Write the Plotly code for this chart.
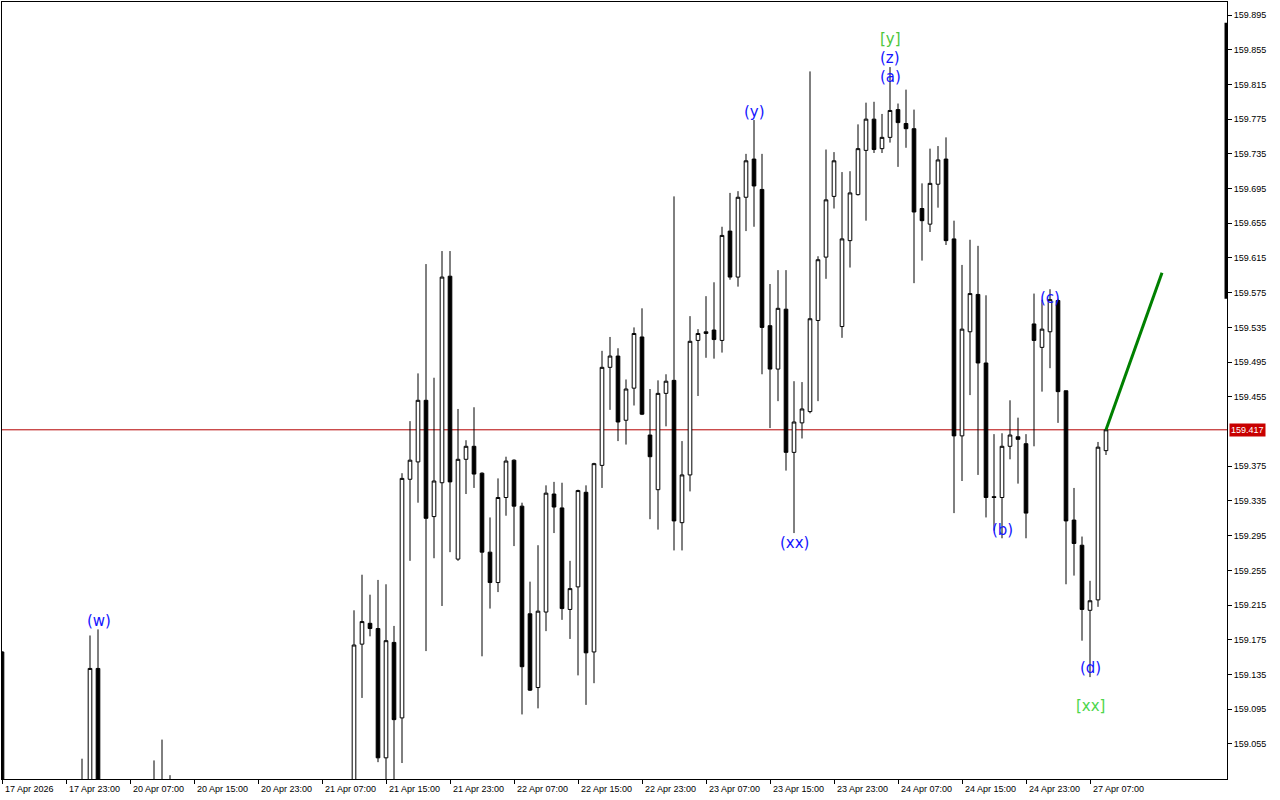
import plotly.graph_objects as go

# ---- data (USDJPY-like H1 candles) ----
bars = list(range(139))

opens = [159.161, 158.950, 158.930, 158.960, 158.945, 158.970, 158.980, 158.965, 158.975, 158.985,
         158.990, 159.000, 159.142, 158.970, 158.950, 158.960, 158.975, 158.985, 158.995, 158.990,
         159.000, 158.995, 158.985, 158.960, 158.945, 158.955, 158.970, 158.960, 158.950, 158.940,
         158.955, 158.965, 158.950, 158.960, 158.975, 158.965, 158.980, 158.970, 158.985, 158.975,
         158.990, 158.980, 158.995, 158.985, 158.990, 159.170, 159.194, 159.188, 159.039, 159.172,
         159.085, 159.360, 159.380, 159.451, 159.317, 159.356, 159.594, 159.268, 159.383, 159.398,
         159.367, 159.276, 159.241, 159.339, 159.382, 159.329, 159.205, 159.120, 159.207, 159.343,
         159.327, 159.210, 159.236, 159.345, 159.161, 159.376, 159.489, 159.502, 159.428, 159.465,
         159.524, 159.411, 159.348, 159.459, 159.474, 159.310, 159.365, 159.520, 159.528, 159.532,
         159.520, 159.646, 159.593, 159.685, 159.729, 159.694, 159.537, 159.487, 159.556, 159.391,
         159.425, 159.438, 159.543, 159.616, 159.686, 159.536, 159.635, 159.688, 159.739, 159.775,
         159.741, 159.754, 159.786, 159.770, 159.764, 159.672, 159.654, 159.700, 159.729, 159.637,
         159.410, 159.530, 159.573, 159.494, 159.340, 159.339, 159.398, 159.409, 159.401, 159.539,
         159.512, 159.530, 159.566, 159.462, 159.313, 159.284, 159.209, 159.221, 159.393]

highs = [159.162, 158.990, 158.975, 158.995, 158.985, 159.000, 159.005, 158.995, 159.005, 159.008,
         159.038, 159.180, 159.187, 159.000, 158.990, 159.000, 159.005, 159.008, 159.010, 159.036,
         159.060, 159.019, 159.005, 158.990, 158.980, 158.985, 158.995, 158.985, 158.975, 158.970,
         158.985, 158.990, 158.980, 158.990, 159.000, 158.995, 159.005, 159.000, 159.008, 159.003,
         159.010, 159.005, 159.010, 159.008, 159.209, 159.250, 159.227, 159.244, 159.239, 159.191,
         159.367, 159.427, 159.482, 159.608, 159.477, 159.623, 159.623, 159.441, 159.405, 159.443,
         159.368, 159.316, 159.361, 159.386, 159.383, 159.333, 159.242, 159.284, 159.353, 159.357,
         159.356, 159.266, 159.348, 159.353, 159.379, 159.508, 159.524, 159.511, 159.475, 159.535,
         159.557, 159.464, 159.474, 159.481, 159.686, 159.404, 159.548, 159.533, 159.571, 159.587,
         159.651, 159.690, 159.692, 159.735, 159.774, 159.735, 159.585, 159.601, 159.601, 159.473,
         159.472, 159.830, 159.617, 159.740, 159.737, 159.714, 159.715, 159.769, 159.794, 159.795,
         159.781, 159.835, 159.793, 159.809, 159.786, 159.701, 159.741, 159.744, 159.754, 159.658,
         159.607, 159.636, 159.629, 159.572, 159.412, 159.413, 159.451, 159.431, 159.412, 159.574,
         159.567, 159.579, 159.568, 159.462, 159.350, 159.294, 159.243, 159.403, 159.418]

lows = [158.930, 158.900, 158.905, 158.935, 158.920, 158.950, 158.955, 158.940, 158.950, 158.960,
        158.975, 158.990, 158.950, 158.930, 158.920, 158.940, 158.950, 158.960, 158.970, 158.975,
        158.980, 158.970, 158.950, 158.930, 158.920, 158.935, 158.945, 158.930, 158.925, 158.915,
        158.935, 158.940, 158.930, 158.940, 158.950, 158.945, 158.955, 158.950, 158.960, 158.955,
        158.965, 158.960, 158.970, 158.965, 158.975, 159.108, 159.179, 159.034, 159.000, 159.005,
        159.033, 159.266, 159.333, 159.162, 159.269, 159.214, 159.276, 159.266, 159.343, 159.350,
        159.156, 159.211, 159.230, 159.318, 159.283, 159.089, 159.116, 159.096, 159.185, 159.298,
        159.198, 159.176, 159.134, 159.100, 159.125, 159.350, 159.440, 159.404, 159.400, 159.445,
        159.434, 159.314, 159.302, 159.421, 159.278, 159.278, 159.346, 159.456, 159.500, 159.499,
        159.506, 159.590, 159.582, 159.646, 159.651, 159.481, 159.419, 159.450, 159.370, 159.298,
        159.407, 159.436, 159.450, 159.591, 159.672, 159.523, 159.604, 159.687, 159.658, 159.736,
        159.736, 159.748, 159.720, 159.742, 159.586, 159.612, 159.645, 159.673, 159.630, 159.321,
        159.358, 159.457, 159.365, 159.316, 159.301, 159.292, 159.383, 159.355, 159.292, 159.398,
        159.461, 159.488, 159.425, 159.239, 159.249, 159.174, 159.132, 159.213, 159.388]

closes = [158.950, 158.930, 158.960, 158.945, 158.970, 158.980, 158.965, 158.975, 158.985, 158.990,
          159.000, 159.142, 158.970, 158.950, 158.960, 158.975, 158.985, 158.995, 158.990, 159.000,
          158.995, 158.985, 158.960, 158.945, 158.955, 158.970, 158.960, 158.950, 158.940, 158.955,
          158.965, 158.950, 158.960, 158.975, 158.965, 158.980, 158.970, 158.985, 158.975, 158.990,
          158.980, 158.995, 158.985, 158.990, 159.169, 159.196, 159.188, 159.039, 159.174, 159.083,
          159.361, 159.382, 159.451, 159.315, 159.358, 159.593, 159.357, 159.383, 159.398, 159.366,
          159.276, 159.241, 159.339, 159.381, 159.329, 159.144, 159.117, 159.208, 159.344, 159.328,
          159.211, 159.234, 159.347, 159.160, 159.378, 159.489, 159.502, 159.426, 159.464, 159.528,
          159.435, 159.386, 159.459, 159.473, 159.312, 159.365, 159.519, 159.528, 159.530, 159.521,
          159.641, 159.593, 159.685, 159.727, 159.698, 159.535, 159.487, 159.557, 159.391, 159.426,
          159.441, 159.545, 159.613, 159.682, 159.727, 159.637, 159.690, 159.741, 159.775, 159.740,
          159.754, 159.785, 159.771, 159.764, 159.668, 159.658, 159.701, 159.728, 159.635, 159.410,
          159.533, 159.574, 159.494, 159.339, 159.339, 159.398, 159.411, 159.406, 159.321, 159.520,
          159.533, 159.567, 159.461, 159.312, 159.286, 159.210, 159.220, 159.397, 159.417]

last_price = 159.417

# projection line
target_x = [138, 145]
target_y = [159.417, 159.598]

# x-axis time labels (one every 8 bars)
tick_bars = [0, 8, 16, 24, 32, 40, 48, 56, 64, 72, 80, 88, 96, 104, 112, 120, 128, 136]
tick_labels = ["17 Apr 2026", "17 Apr 23:00", "20 Apr 07:00", "20 Apr 15:00", "20 Apr 23:00",
               "21 Apr 07:00", "21 Apr 15:00", "21 Apr 23:00", "22 Apr 07:00", "22 Apr 15:00",
               "22 Apr 23:00", "23 Apr 07:00", "23 Apr 15:00", "23 Apr 23:00", "24 Apr 07:00",
               "24 Apr 15:00", "24 Apr 23:00", "27 Apr 07:00"]

price_ticks = [159.055, 159.095, 159.135, 159.175, 159.215, 159.255, 159.295, 159.335, 159.375,
               159.455, 159.495, 159.535, 159.575, 159.615, 159.655, 159.695, 159.735, 159.775,
               159.815, 159.855, 159.895]

# wave labels
wave_text = ["(w)", "(y)", "(xx)", "[y]", "(z)", "(a)", "(b)", "(c)", "(d)", "[xx]"]
wave_x = [12.1, 94.1, 99.0, 111.1, 111.0, 111.0, 125.0, 131.0, 136.0, 136.0]
wave_y = [159.197, 159.783, 159.287, 159.867, 159.845, 159.824, 159.301, 159.569, 159.143, 159.099]
wave_color = ["#1414FF", "#1414FF", "#1414FF", "#4CC63C", "#1414FF", "#1414FF",
              "#1414FF", "#1414FF", "#1414FF", "#4CD64C"]

# ---- figure ----
fig = go.Figure()
fig.add_trace(go.Candlestick(
    x=bars, open=opens, high=highs, low=lows, close=closes,
    increasing=dict(line=dict(color="black", width=1), fillcolor="white"),
    decreasing=dict(line=dict(color="black", width=1), fillcolor="black"),
    whiskerwidth=0, hoverinfo="skip", showlegend=False))

fig.add_trace(go.Scatter(x=target_x, y=target_y, mode="lines",
                         line=dict(color="#008000", width=3),
                         hoverinfo="skip", showlegend=False))

shapes = [
    dict(type="line", xref="paper", yref="y", x0=0, x1=1, y0=last_price, y1=last_price,
         line=dict(color="#B40000", width=1), layer="below"),
    dict(type="line", xref="paper", yref="y", x0=0.9992, x1=0.9992, y0=159.568, y1=159.886,
         line=dict(color="black", width=3)),
]

annotations = []
for b, t in zip(tick_bars, tick_labels):
    annotations.append(dict(x=b, y=0, xref="x", yref="paper", text=t, showarrow=False,
                            xanchor="left", yanchor="top", xshift=1, yshift=-3,
                            font=dict(family="Liberation Sans", size=9, color="black")))
for t, x, y, c in zip(wave_text, wave_x, wave_y, wave_color):
    annotations.append(dict(x=x, y=y, xref="x", yref="y", text=t, showarrow=False,
                            xanchor="center", yanchor="middle",
                            font=dict(family="DejaVu Sans", size=15, color=c)))
annotations.append(dict(x=1, y=last_price, xref="paper", yref="y", text=f"{last_price:.3f}",
                        showarrow=False, xanchor="left", yanchor="middle", xshift=2,
                        bgcolor="#C80000", borderpad=1,
                        font=dict(family="Liberation Sans", size=9, color="white")))

fig.update_layout(
    width=1280, height=800,
    margin=dict(l=2, r=53, t=2, b=21),
    paper_bgcolor="white", plot_bgcolor="white",
    boxgap=0.35,
    shapes=shapes, annotations=annotations,
    showlegend=False,
    xaxis=dict(range=[0, 153.125], showgrid=False, zeroline=False,
               showline=True, mirror=True, linecolor="black", linewidth=1,
               tickmode="array", tickvals=tick_bars, showticklabels=False,
               ticks="outside", ticklen=4, tickcolor="black",
               rangeslider=dict(visible=False)),
    yaxis=dict(range=[159.0146, 159.910], side="right", showgrid=False, zeroline=False,
               showline=True, mirror=True, linecolor="black", linewidth=1,
               tickmode="array", tickvals=price_ticks, tickformat=".3f",
               ticks="outside", ticklen=4, tickcolor="black",
               tickfont=dict(family="Liberation Sans", size=9, color="black")),
)

fig.write_html("out.html", config={"displayModeBar": False},
               post_script="document.body.style.margin='0';document.body.style.overflow='hidden';")
